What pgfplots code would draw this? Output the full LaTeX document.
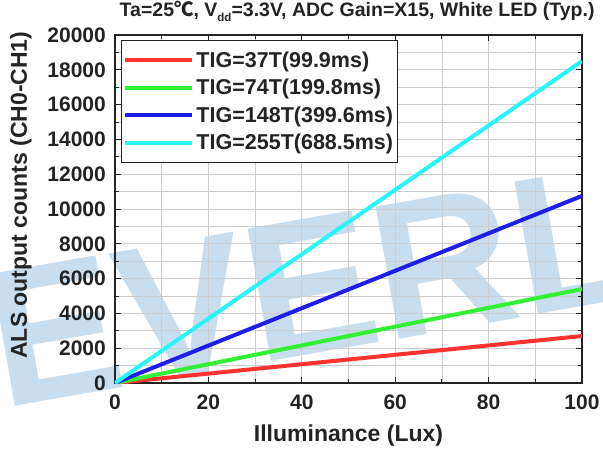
\documentclass[border=0pt]{standalone}
\usepackage{fontspec}
\setmainfont{Liberation Sans}
\newfontfamily\cjk{Noto Sans CJK SC}
\usepackage{pgfplots}
\pgfplotsset{compat=1.18}
\definecolor{cred}{RGB}{255,50,50}
\definecolor{cgreen}{RGB}{50,240,50}
\definecolor{cblue}{RGB}{30,30,235}
\definecolor{ccyan}{RGB}{40,245,250}
\definecolor{wm}{RGB}{200,222,238}
\definecolor{gridc}{RGB}{205,205,205}
\definecolor{txt}{RGB}{35,35,35}
\begin{document}
\begin{tikzpicture}
\begin{scope}
\clip (-115pt,-67pt) rectangle (488pt,383pt);
\node[anchor=base west, rotate=10, inner sep=0pt, text=wm, font=\fontsize{195}{195}\selectfont\bfseries] at (-113pt,-26pt) {EVERLIGHT};
\end{scope}
\begin{axis}[
  scale only axis,
  width=467pt, height=348pt,
  xmin=0, xmax=100, ymin=0, ymax=20000,
  xtick={0,20,40,60,80,100},
  minor xtick={10,30,50,70,90},
  ytick={0,2000,...,20000},
  minor ytick={1000,3000,...,19000},
  scaled y ticks=false,
  grid=both,
  major grid style={gridc, line width=0.8pt},
  minor grid style={gridc, line width=0.8pt},
  tick align=inside,
  major tick length=6pt,
  minor tick length=4pt,
  every tick/.style={txt, line width=0.9pt},
  axis line style={txt, line width=1.1pt},
  ticklabel style={font=\fontsize{21}{21}\selectfont\bfseries, text=txt},
  /pgf/number format/assume math mode=true,
  /pgf/number format/1000 sep={},
  xticklabel style={anchor=base, yshift=-26pt, inner sep=0pt},
  yticklabel style={anchor=east, xshift=-9pt, inner sep=0pt},
  xlabel={Illuminance (Lux)},
  ylabel={ALS output counts (CH0-CH1)},
  label style={font=\fontsize{23}{23}\selectfont\bfseries, text=txt},
  xlabel style={at={(axis description cs:0.5,-0.1695)}, anchor=base},
  ylabel style={at={(axis description cs:-0.2013,0.540)}, rotate=0, anchor=center},
  title={Ta=25{\cjk ℃}, V\raisebox{-0.45ex}{\fontsize{11.5}{11.5}\selectfont dd}=3.3V, ADC Gain=X15, White LED (Typ.)},
  title style={font=\fontsize{19.5}{19.5}\selectfont\bfseries, text=txt, at={(axis description cs:0.5185,1)}, anchor=base, yshift=12pt, inner sep=0pt},
  legend style={at={(0,1)}, anchor=north west, xshift=6pt, yshift=-5pt,
    draw=txt, line width=1pt, fill=white,
    font=\fontsize{21.5}{21.5}\selectfont\bfseries, text=txt,
    inner xsep=2pt, inner ysep=9pt, row sep=6.5pt,
    nodes={inner sep=2pt}},
  legend cell align=left,
  legend image code/.code={\path (0pt,0pt) -- (10pt,0pt); \draw[#1, line width=4pt] (10pt,0pt) -- (67pt,0pt);},
]
\addplot[cred, line width=4pt] coordinates {(0,0) (20,540) (40,1080) (60,1620) (80,2160) (100,2700)};
\addlegendentry{TIG=37T(99.9ms)}
\addplot[cgreen, line width=4pt] coordinates {(0,0) (20,1080) (40,2160) (60,3240) (80,4320) (100,5400)};
\addlegendentry{TIG=74T(199.8ms)}
\addplot[cblue, line width=4pt] coordinates {(0,0) (20,2150) (40,4300) (60,6450) (80,8600) (100,10750)};
\addlegendentry{TIG=148T(399.6ms)}
\addplot[ccyan, line width=4pt] coordinates {(0,0) (20,3700) (40,7400) (60,11100) (80,14800) (100,18500)};
\addlegendentry{TIG=255T(688.5ms)}
\end{axis}
\pgfresetboundingbox
\path[use as bounding box] (-115pt,-67pt) rectangle (488pt,383pt);
\end{tikzpicture}
\end{document}
